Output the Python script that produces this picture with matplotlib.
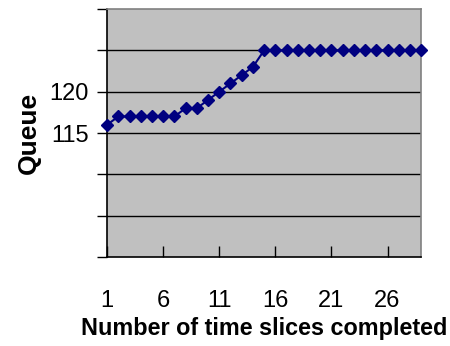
import matplotlib
matplotlib.use("Agg")
import matplotlib.pyplot as plt

plt.rcParams['font.family'] = ['Liberation Sans', 'DejaVu Sans']

# queue length after each completed time slice
slices = list(range(1, 30))
queue = [116, 117, 117, 117, 117, 117, 117, 118, 118, 119,
         120, 121, 122, 123, 125, 125, 125, 125, 125, 125,
         125, 125, 125, 125, 125, 125, 125, 125, 125]

x_ticks = [1, 6, 11, 16, 21, 26]
y_grid = [100, 105, 110, 115, 120, 125, 130]
y_labels = {115: '115', 120: '120'}

fig = plt.figure(figsize=(4.5, 3.46), dpi=100)
ax = fig.add_axes([0.238, 0.257, 0.698, 0.717])
ax.set_facecolor('#c0c0c0')

for y in y_grid[1:-1]:
    ax.axhline(y, color='black', lw=1.0, zorder=1)

ax.plot(slices, queue, color='#000080', lw=1.5, marker='D', ms=6.5,
        zorder=3, clip_on=False)

ax.set_xlim(1, 29)
ax.set_ylim(100, 130)
ax.set_xticks(x_ticks)
ax.set_xticklabels([str(t) for t in x_ticks], fontsize=17)
ax.set_yticks(y_grid)
ax.set_yticklabels([y_labels.get(y, '') for y in y_grid], fontsize=17)
ax.tick_params(axis='x', direction='in', length=8, width=1, pad=24)
ax.tick_params(axis='y', direction='out', length=7, width=1, pad=6)

for side in ('top', 'right'):
    ax.spines[side].set_color('#808080')
    ax.spines[side].set_linewidth(1.2)
for side in ('left', 'bottom'):
    ax.spines[side].set_color('black')
    ax.spines[side].set_linewidth(1.2)

ax.set_xlabel('Number of time slices completed', fontsize=16.8,
              fontweight='bold', labelpad=3)
ax.set_ylabel('Queue', fontsize=19, fontweight='bold', labelpad=6)

fig.savefig('out.png', dpi=100)
